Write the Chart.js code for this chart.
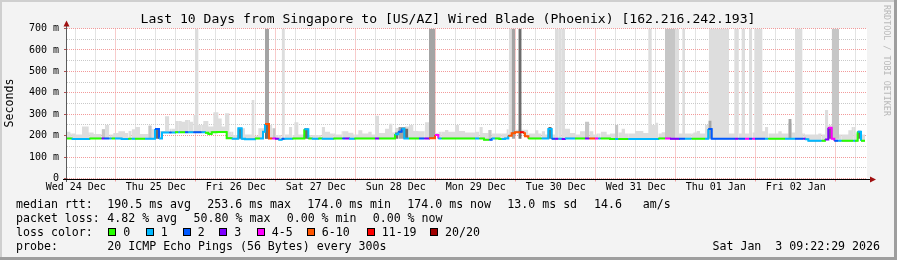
<!DOCTYPE html>
<html><head><meta charset="utf-8">
<script src="https://cdn.jsdelivr.net/npm/chart.js@4.4.1/dist/chart.umd.min.js"></script>
<style>html,body{margin:0;padding:0;background:#f3f3f3;overflow:hidden}canvas{display:block}</style>
</head><body>
<canvas id="c" width="897" height="260"></canvas>
<script>
// ---------- data ----------
const titleText = 'Last 10 Days from Singapore to [US/AZ] Wired Blade (Phoenix) [162.216.242.193]';
const yAxisTitle = 'Seconds';
const watermark = 'RRDTOOL / TOBI OETIKER';
const dayLabels = ['Wed 24 Dec','Thu 25 Dec','Fri 26 Dec','Sat 27 Dec','Sun 28 Dec','Mon 29 Dec','Tue 30 Dec','Wed 31 Dec','Thu 01 Jan','Fri 02 Jan'];
const firstNoonHour = 2.625;   // hours from graph start (Wed 24 Dec 09:22:29) to Wed 24 Dec 12:00
const gridStepHours = 6;
const rangeHours = 240;
const yTickValues = [0,50,100,150,200,250,300,350,400,450,500,550,600,650,700];
const lossLabels = ['0','1','2','3','4-5','6-10','11-19','20/20'];
const lossColors = ['#26ff00','#00b8ff','#0059ff','#7e00ff','#ff00ff','#ff5500','#ff0000','#a00000'];

// median rtt steps: [hour, ms, loss class]
const medianSteps = [
 [0,187,0],[1.4,184,1],[6.7,187,0],[10.4,187,3],[11.1,187,2],[12.7,187,1],[13.4,187,0],[14.4,187,1],
 [16.4,184,1],[18.4,186,0],[19.4,186,1],[20.4,186,0],[23.4,186,1],[26.4,231,2],[27.6,187,1],[28.5,215,1],
 [30.7,215,2],[31.4,215,1],[32.4,216,0],[33.4,216,1],[33.9,216,0],[35.4,216,2],[36.4,216,1],[37.9,216,2],
 [40.4,216,1],[41.4,213,0],[42.4,208,0],[43.4,216,0],[44.9,217,0],[47.9,188,0],[49.4,186,1],[51.4,234,1],
 [52.4,185,1],[53.4,183,1],[56.4,187,0],[57.9,187,1],[58.8,218,1],[59.4,254,5],[60.6,187,5],[61.6,187,4],
 [62.4,186,3],[63.4,181,1],[64.4,185,2],[65.2,186,1],[67.6,187,0],[71.2,230,1],[72.4,187,0],[73.4,186,1],
 [75.4,187,0],[76.4,186,1],[79.9,187,0],[82.6,187,2],[83.4,187,3],[84.6,186,1],[86.2,187,0],[92.4,187,3],
 [93.6,187,0],[98.4,206,1],[99.4,218,2],[100.4,232,1],[101.2,187,1],[102.6,187,0],[105.6,187,2],[107.2,187,3],
 [108.6,188,5],[110.4,203,4],[111.4,187,1],[112.4,187,0],[122.4,187,1],[123.7,187,0],[125.1,181,0],[126.7,181,2],
 [127.4,187,1],[128.4,187,0],[129.7,184,0],[130.4,184,1],[131.4,187,1],[132.4,200,5],[133.4,211,5],[134.4,216,5],
 [135.9,216,6],[136.9,211,5],[137.4,197,5],[138.4,187,0],[142.4,187,1],[144.4,231,1],[145.4,185,2],[146.4,185,3],
 [147.4,185,1],[148.4,184,3],[149.4,187,1],[152.4,187,0],[155.4,187,3],[156.7,187,5],[158.4,187,4],[159.4,187,1],
 [160.1,187,0],[162.9,184,0],[164.4,184,1],[165.4,184,0],[168.4,184,1],[177.4,187,0],[179.4,187,4],[180.9,185,3],
 [183.6,186,2],[185.4,186,1],[187.4,186,0],[191.4,186,1],[192.4,231,2],[193.4,186,2],[200.4,186,3],[201.4,186,2],
 [203.4,186,4],[204.6,186,2],[205.6,186,4],[206.4,186,2],[209.4,186,1],[210.4,186,0],[215.4,186,1],[218.4,186,2],
 [220.9,186,3],[221.4,183,1],[222.4,176,1],[226.4,176,0],[227.4,182,3],[228.4,237,4],[229.4,186,4],[230.2,176,2],
 [231.4,176,1],[232.4,176,0],[235.9,176,1],[236.4,176,0],[237.2,218,1],[238.2,176,0],[239.4,176,0]
];

// light smoke upper edge steps: [hour, ms]
const lightSmoke = [
 [0,218],[1,210],[2.5,205],[4.5,243],[6.5,215],[8,208],[10.4,230],[11.4,250],[12.7,205],[13.9,212],[15.4,220],
 [17.4,212],[18.4,222],[19.4,230],[20.4,240],[21.9,208],[24.4,245],[25.4,230],[26.4,234],[27.9,222],[29.4,290],
 [30.7,232],[32.4,268],[34.4,265],[35.4,273],[36.9,265],[37.9,296],[38.4,700],[39.4,250],[40.9,268],[42.4,243],
 [43.9,309],[45.4,280],[46.4,243],[47.4,305],[48.7,218],[49.9,203],[51.4,234],[53.4,205],[55.4,366],[56.2,200],
 [57.4,234],[59.1,250],[61.6,203],[64.4,700],[65.4,205],[66.6,240],[67.6,203],[68.2,262],[69.4,205],[71.2,234],
 [72.4,203],[76.4,240],[77.4,218],[78.9,210],[80.4,205],[82.4,220],[84.4,214],[85.9,205],[87.4,225],[88.6,210],
 [90.4,218],[91.4,205],[92.4,293],[93.6,212],[95.4,232],[96.6,255],[97.6,215],[98.4,236],[101.4,243],[102.6,250],
 [103.9,222],[105.4,220],[107.4,262],[108.6,230],[110.4,212],[111.4,218],[113.4,226],[114.4,218],[116.4,250],
 [117.6,222],[119.4,215],[122.4,218],[123.7,240],[124.7,212],[126.4,226],[127.4,210],[131.9,230],[132.6,700],
 [134.4,228],[138.4,210],[140.4,225],[141.4,210],[142.4,220],[143.4,205],[144.4,240],[145.4,205],[146.4,700],
 [149.4,232],[150.9,212],[152.4,205],[153.9,220],[155.4,258],[156.7,220],[157.9,205],[158.9,210],[160.1,218],
 [161.9,205],[162.9,210],[164.4,250],[165.4,215],[166.4,232],[167.4,210],[170.4,222],[172.9,212],[174.4,700],
 [175.4,250],[176.4,260],[177.4,210],[178.4,216],[179.4,215],[182.4,700],[183.6,210],[184.6,700],[185.4,210],
 [187.9,215],[188.9,222],[189.9,210],[191.4,250],[192.6,700],[198.6,210],[200.2,700],[201.6,210],[202.4,700],
 [203.4,210],[204.6,700],[205.6,215],[206.2,700],[208.6,220],[209.4,240],[210.4,210],[213.4,220],[214.4,210],
 [216.4,260],[217.4,215],[218.4,700],[220.6,210],[221.4,205],[225.4,210],[226.4,205],[227.4,320],[228.4,250],
 [229.4,215],[231.6,205],[234.4,225],[235.4,240],[236.4,210],[237.2,225],[238.2,205],[239.4,205]
];
// darker smoke blocks: [startHour, endHour, topMs]
const greySmoke = [
 [10.4,11.4,230],[24.4,25.4,247],[61.6,62.6,234],[126.4,127.4,226],[155.4,156.7,265],[164.4,165.4,250],
 [179.4,182.4,700],[229.4,231.6,700]
];
const midSmoke = [
 [59.4,60.6,700],[99.4,101.6,240],[108.6,110.4,700],[133.4,134.4,700],[192.4,193.4,270],[216.4,217.4,278]
];
const darkSmoke = [
 [26.4,27.6,234],[51.4,52.4,236],[59.4,60.6,254],[71.2,72.4,232],[98.4,99.4,215],[101.2,102.4,232],
 [135.4,136.4,700],[144.4,145.4,240],[228.4,229.4,240],[237.2,238.2,222]
];
const smokeFloorMs = 185;

const statLines = [
 [['median rtt:',16],['190.5 ms avg',107.3],['253.6 ms max',207.3],['174.0 ms min',307.3],['174.0 ms now',407.3],['13.0 ms sd',507.3],['14.6',594],['am/s',642.7]],
 [['packet loss:',16],['4.82 % avg',107.3],['50.80 % max',193.6],['0.00 % min',286.7],['0.00 % now',372.7]],
 [['loss color:',16]],
 [['probe:',16],['20 ICMP Echo Pings (56 Bytes) every 300s',107.3]]
];
const dateText = 'Sat Jan  3 09:22:29 2026';

// ---------- build ----------
const MONO = "'DejaVu Sans Mono', monospace";
const RED = '#f29a9a', GREY = '#c9c9c9';
const xTickValues = [];
for (let v = firstNoonHour; v < rangeHours; v += gridStepHours) xTickValues.push(v);
const isMidnight = v => Math.round((v - firstNoonHour) / gridStepHours) % 4 === 2;

const medianData = medianSteps.map(s => ({x: s[0], y: s[1]}));
const medianLoss = medianSteps.map(s => s[2]);
const lightData = lightSmoke.map(s => ({x: s[0], y: s[1]}));
function blocks(list) {
  const out = [];
  list.slice().sort((a, b) => a[0] - b[0]).forEach(([s, e, t]) => {
    out.push({x: s, y: t}, {x: e, y: t}, {x: e, y: null});
  });
  return out;
}

const bgPlugin = {
  id: 'bg',
  beforeDraw(chart) {
    const {ctx, chartArea: a} = chart;
    ctx.save();
    ctx.fillStyle = '#f3f3f3';
    ctx.fillRect(0, 0, 897, 260);
    ctx.fillStyle = '#cfcfcf';
    ctx.fillRect(0, 0, 897, 2);
    ctx.fillRect(0, 0, 2, 260);
    ctx.fillStyle = '#9e9e9e';
    ctx.fillRect(0, 257, 897, 3);
    ctx.fillRect(894, 0, 3, 260);
    ctx.fillStyle = '#ffffff';
    ctx.fillRect(a.left, a.top, a.right - a.left, a.bottom - a.top);
    ctx.restore();
  }
};

const decoPlugin = {
  id: 'deco',
  afterDraw(chart) {
    const {ctx, chartArea: a} = chart;
    ctx.save();
    // axes
    const yAxisX = Math.round(a.left) - 1;
    const xAxisY = Math.round(a.bottom);
    ctx.fillStyle = '#5a5a5a';
    ctx.fillRect(yAxisX, a.top - 5, 1, xAxisY - a.top + 8);
    ctx.fillStyle = '#000000';
    ctx.fillRect(yAxisX - 3, xAxisY, a.right - a.left + 9, 1);
    ctx.fillStyle = '#a01010';
    ctx.beginPath();
    ctx.moveTo(yAxisX + 0.5, a.top - 8);
    ctx.lineTo(yAxisX + 3.5, a.top - 2);
    ctx.lineTo(yAxisX - 2.5, a.top - 2);
    ctx.closePath(); ctx.fill();
    ctx.beginPath();
    ctx.moveTo(a.right + 9, xAxisY + 0.5);
    ctx.lineTo(a.right + 3, xAxisY + 3.5);
    ctx.lineTo(a.right + 3, xAxisY - 2.5);
    ctx.closePath(); ctx.fill();

    // title
    ctx.fillStyle = '#000';
    ctx.font = '13.1px ' + MONO;
    ctx.textAlign = 'center';
    ctx.textBaseline = 'alphabetic';
    ctx.fillText(titleText, 448, 23);

    // y axis title
    ctx.save();
    ctx.translate(13, 103);
    ctx.rotate(-Math.PI / 2);
    ctx.font = '11.6px ' + MONO;
    ctx.textAlign = 'center';
    ctx.textBaseline = 'alphabetic';
    ctx.fillText(yAxisTitle, 0, 0);
    ctx.restore();

    // watermark
    ctx.save();
    ctx.translate(884, 5);
    ctx.rotate(Math.PI / 2);
    ctx.font = '8.4px ' + MONO;
    ctx.fillStyle = '#b8b8b8';
    ctx.textAlign = 'left';
    ctx.textBaseline = 'alphabetic';
    ctx.fillText(watermark, 0, 0);
    ctx.restore();

    // legend / stats
    ctx.font = '11.6px ' + MONO;
    ctx.textAlign = 'left';
    ctx.textBaseline = 'alphabetic';
    ctx.fillStyle = '#000';
    const baselines = [208, 222, 236, 250];
    statLines.forEach((line, i) => {
      line.forEach(([t, x]) => ctx.fillText(t, x, baselines[i]));
    });
    const swX = [108.3, 145.7, 182.7, 219.3, 256.7, 306.7, 366.7, 430];
    lossLabels.forEach((lab, i) => {
      const bx = Math.round(swX[i]);
      ctx.fillStyle = '#000';
      ctx.fillRect(bx, 228, 8, 8);
      ctx.fillStyle = lossColors[i];
      ctx.fillRect(bx + 1, 229, 6, 6);
      ctx.fillStyle = '#000';
      ctx.fillText(lab, swX[i] + 15, baselines[2]);
    });
    ctx.textAlign = 'right';
    ctx.fillText(dateText, 880, baselines[3]);
    ctx.restore();
  }
};

new Chart(document.getElementById('c'), {
  type: 'line',
  data: {
    datasets: [
      { label: 'median', data: medianData, stepped: true, borderWidth: 2, pointRadius: 0, fill: false, order: 0,
        borderColor: lossColors[0],
        segment: { borderColor: c => lossColors[medianLoss[c.p0DataIndex]] } },
      { label: 'median edge', data: medianData, stepped: true, borderWidth: 1, pointRadius: 0, fill: false, order: 1,
        borderColor: '#222222' },
      { label: 'dark smoke', data: blocks(darkSmoke), stepped: true, borderWidth: 0, pointRadius: 0, order: 2,
        borderColor: 'rgba(0,0,0,0)', backgroundColor: '#6c6c6c', fill: {value: smokeFloorMs}, spanGaps: false },
      { label: 'mid smoke', data: blocks(midSmoke), stepped: true, borderWidth: 0, pointRadius: 0, order: 3,
        borderColor: 'rgba(0,0,0,0)', backgroundColor: '#a4a4a4', fill: {value: smokeFloorMs}, spanGaps: false },
      { label: 'grey smoke', data: blocks(greySmoke), stepped: true, borderWidth: 0, pointRadius: 0, order: 4,
        borderColor: 'rgba(0,0,0,0)', backgroundColor: '#c6c6c6', fill: {value: smokeFloorMs}, spanGaps: false },
      { label: 'light smoke', data: lightData, stepped: true, borderWidth: 0, pointRadius: 0, order: 5,
        borderColor: 'rgba(0,0,0,0)', backgroundColor: '#dddddd', fill: 0 }
    ]
  },
  options: {
    responsive: false, animation: false, devicePixelRatio: 1,
    layout: { padding: { left: 0, right: 30, top: 28.5, bottom: 0 } },
    plugins: { legend: { display: false }, tooltip: { enabled: false }, title: { display: false } },
    elements: { point: { radius: 0 }, line: { tension: 0 } },
    scales: {
      x: {
        type: 'linear', min: 0, max: rangeHours,
        afterFit: s => { s.height = 81.5; },
        afterBuildTicks: s => { s.ticks = xTickValues.map(v => ({value: v})); },
        ticks: { autoSkip: false, maxRotation: 0, minRotation: 0, padding: 0, color: '#000',
                 font: { family: MONO, size: 10 },
                 callback: (v, i) => (i % 4 === 0 ? dayLabels[i / 4] : '') },
        grid: { lineWidth: 1, tickLength: 3,
                color: c => (isMidnight(c.tick.value) ? RED : GREY),
                tickColor: c => (isMidnight(c.tick.value) ? RED : 'rgba(0,0,0,0)') },
        border: { display: false, dash: [1, 1] }
      },
      y: {
        min: 0, max: 700,
        afterFit: s => { s.width = 67; },
        afterBuildTicks: s => { s.ticks = yTickValues.map(v => ({value: v})); },
        ticks: { autoSkip: false, padding: 5, color: '#000', font: { family: MONO, size: 10 },
                 callback: v => (v % 100 === 0 ? (v === 0 ? '0' : v + ' m') : '') },
        grid: { lineWidth: 1, tickLength: 3,
                color: c => (c.tick.value % 100 === 0 ? RED : GREY),
                tickColor: c => (c.tick.value % 100 === 0 ? '#b05050' : 'rgba(0,0,0,0)') },
        border: { display: false, dash: [1, 1] }
      }
    }
  },
  plugins: [bgPlugin, decoPlugin]
});
</script>
</body></html>
